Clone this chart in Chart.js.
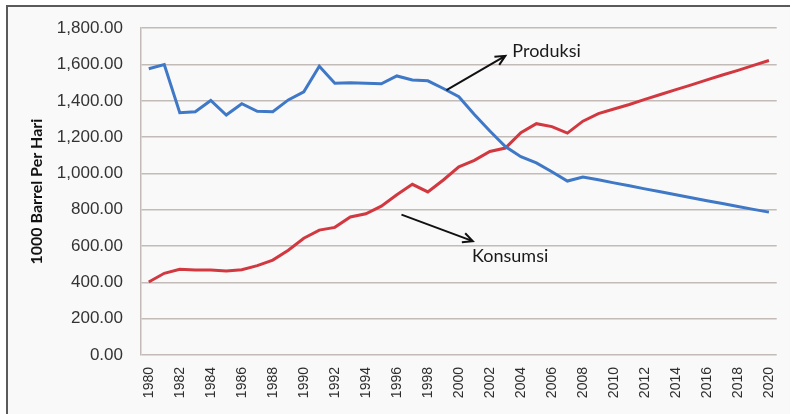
<!DOCTYPE html>
<html>
<head>
<meta charset="utf-8">
<script src="https://cdn.jsdelivr.net/npm/chart.js@4.4.1/dist/chart.umd.min.js"></script>
<style>
  body { margin: 0; background: #ffffff; }
  #wrap { position: relative; width: 798px; height: 414px; }
  #frame {
    position: absolute; left: 6px; top: 5px; width: 782px; height: 420px;
    border-top: 2px solid #5a5a5a; border-left: 2px solid #5a5a5a;
    background: #f9f9f9;
  }
  canvas { position: absolute; left: 0; top: 0; }
</style>
</head>
<body>
<div id="wrap">
  <div id="frame"></div>
  <canvas id="myChart" width="798" height="414"></canvas>
</div>
<script>
const years = [
  "1980", "1981", "1982", "1983", "1984", "1985", "1986", "1987", "1988", "1989",
  "1990", "1991", "1992", "1993", "1994", "1995", "1996", "1997", "1998", "1999",
  "2000", "2001", "2002", "2003", "2004", "2005", "2006", "2007", "2008", "2009",
  "2010", "2011", "2012", "2013", "2014", "2015", "2016", "2017", "2018", "2019",
  "2020"
];
const produksi = [
  1577, 1600, 1335, 1340, 1402, 1322, 1384, 1342, 1340, 1405,
  1450, 1590, 1497, 1500, 1497, 1494, 1537, 1515, 1510, 1468,
  1423, 1325, 1234, 1148, 1092, 1058, 1009, 958, 980, 965,
  948, 932, 915, 899, 883, 866, 850, 834, 818, 802,
  787
];
const konsumsi = [
  402, 450, 472, 468, 468, 463, 470, 492, 523, 577,
  643, 688, 703, 760, 778, 820, 883, 940, 898, 964,
  1036, 1072, 1121, 1140, 1225, 1274, 1258, 1222, 1288, 1330,
  1355, 1380, 1408, 1435, 1462, 1488, 1515, 1542, 1568, 1595,
  1622
];
const yTicks = [0, 200, 400, 600, 800, 1000, 1200, 1400, 1600, 1800];

// arrow annotations: [x index, value] in data space
const notes = [
  { text: "Produksi", from: [19.2, 1459], to: [23.0, 1648], label: [23.45, 1675] },
  { text: "Konsumsi", from: [16.3, 773], to: [20.9, 627], label: [20.85, 546] }
];

function fmt(v) {
  const s = String(Math.round(v)).replace(/\B(?=(\d{3})+(?!\d))/g, ",");
  return s + ".00";
}

const arrowPlugin = {
  id: "arrows",
  afterDatasetsDraw(chart) {
    const c = chart.ctx;
    const x = chart.scales.x;
    const y = chart.scales.y;
    const px = (i) => x.getPixelForValue(0) + i * (x.getPixelForValue(1) - x.getPixelForValue(0));
    c.save();
    c.strokeStyle = "#111";
    c.fillStyle = "#1a1a1a";
    c.lineWidth = 2;
    c.font = "18px Lato";
    c.textBaseline = "middle";
    notes.forEach((n) => {
      const x1 = px(n.from[0]), y1 = y.getPixelForValue(n.from[1]);
      const x2 = px(n.to[0]), y2 = y.getPixelForValue(n.to[1]);
      const a = Math.atan2(y2 - y1, x2 - x1);
      c.beginPath();
      c.moveTo(x1, y1);
      c.lineTo(x2, y2);
      c.moveTo(x2 - 11 * Math.cos(a - 0.45), y2 - 11 * Math.sin(a - 0.45));
      c.lineTo(x2, y2);
      c.lineTo(x2 - 11 * Math.cos(a + 0.45), y2 - 11 * Math.sin(a + 0.45));
      c.stroke();
      c.fillText(n.text, px(n.label[0]), y.getPixelForValue(n.label[1]));
    });
    c.restore();
  }
};

const ctx = document.getElementById("myChart");
new Chart(ctx, {
  type: "line",
  data: {
    labels: years,
    datasets: [
      {
        label: "Produksi",
        data: produksi,
        borderColor: "#3f78c6",
        borderWidth: 3,
        pointRadius: 0,
        tension: 0
      },
      {
        label: "Konsumsi",
        data: konsumsi,
        borderColor: "#d2383f",
        borderWidth: 3,
        pointRadius: 0,
        tension: 0
      }
    ]
  },
  options: {
    responsive: false,
    animation: false,
    layout: { padding: { left: 27, top: 20, right: 21, bottom: 0 } },
    plugins: {
      legend: { display: false },
      tooltip: { enabled: false }
    },
    scales: {
      x: {
        offset: true,
        grid: { display: false, drawTicks: false },
        border: { display: false },
        ticks: {
          autoSkip: false,
          minRotation: 90,
          maxRotation: 90,
          padding: 12,
          color: "#2e2e2e",
          font: { family: "Liberation Sans", size: 14 },
          callback: (v, i) => (i % 2 === 0 ? years[i] : "")
        },
        afterFit: (s) => { s.height = 59; }
      },
      y: {
        min: 0,
        max: 1800,
        afterBuildTicks: (s) => { s.ticks = yTicks.map((v) => ({ value: v })); },
        grid: { color: "#c3bbb8", lineWidth: 1.5, drawTicks: false },
        border: { display: true, color: "#c3bbb8", width: 1.5 },
        ticks: {
          padding: 18,
          color: "#333",
          font: { family: "Liberation Sans", size: 17 },
          callback: (v) => fmt(v)
        },
        title: {
          display: true,
          text: "1000 Barrel Per Hari",
          color: "#111",
          padding: 0,
          font: { family: "Lato", size: 16, weight: "bold", lineHeight: 1.2 }
        },
        afterFit: (s) => { s.width = 114; }
      }
    }
  },
  plugins: [arrowPlugin]
});
</script>
</body>
</html>
